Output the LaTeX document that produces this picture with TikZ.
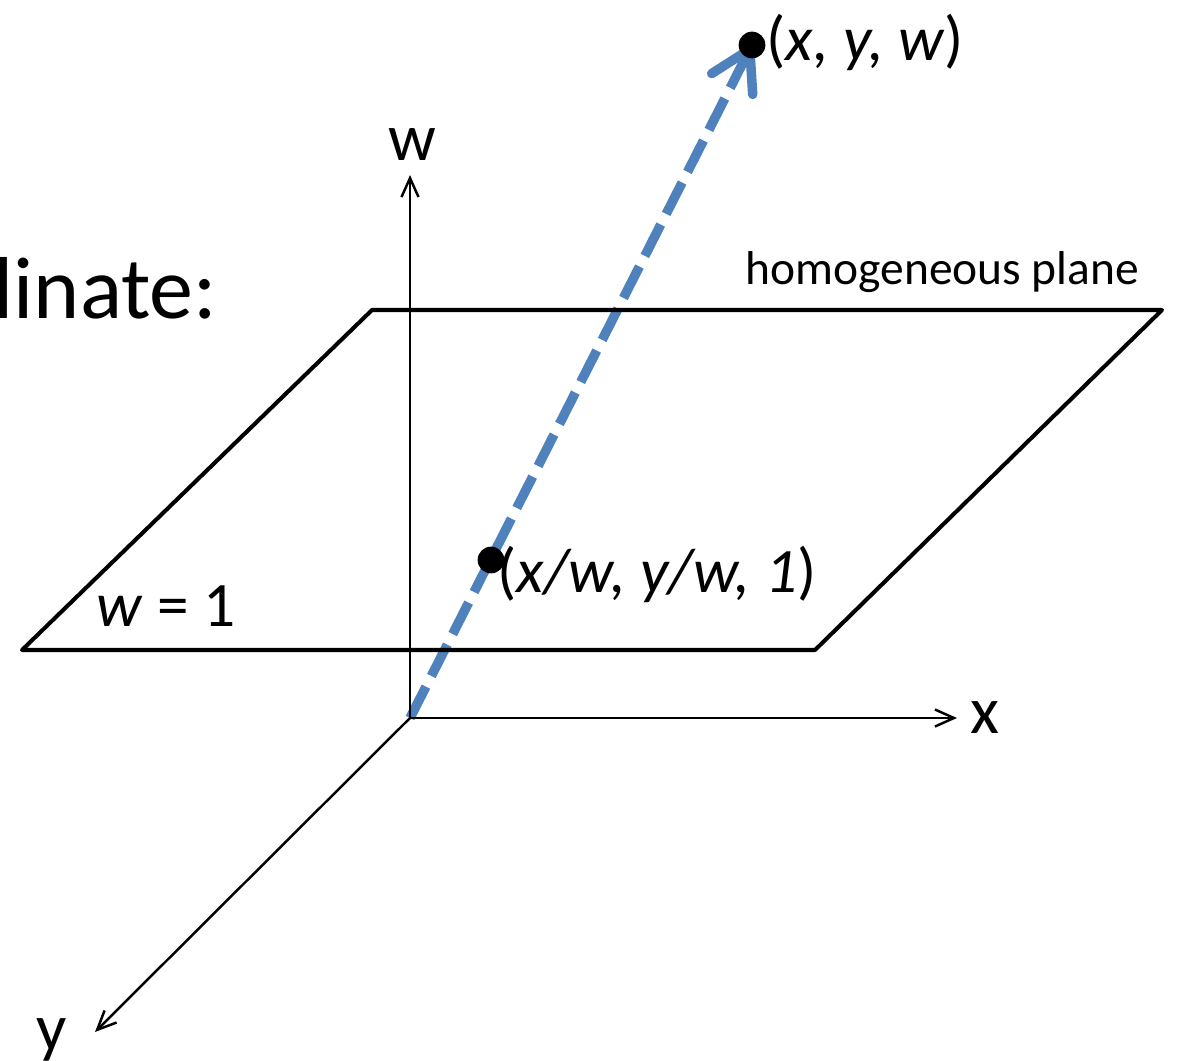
\documentclass[tikz,border=0pt]{standalone}
\usepackage{fontspec}
\setmainfont{Carlito}
\usepackage{tikz}
\usetikzlibrary{arrows.meta,positioning,backgrounds}
\definecolor{RayBlue}{RGB}{79,129,189}

\begin{document}
\begin{tikzpicture}[
  x=0.01cm, y=-0.01cm,
  axis/.style={-{Straight Barb[length=1.9mm,width=1.7mm]}, line width=0.7pt},
  plane/.style={draw, line width=1.15pt, line join=round, line cap=round},
  ray/.style={RayBlue, line width=2.7pt, dash pattern=on 10pt off 3.4pt,
    -{Straight Barb[length=3.9mm,width=4.6mm,round]}},
  dot/.style={circle, fill=black, inner sep=0pt, minimum size=7.6pt},
  textlabel/.style={font=\fontsize{18}{21}\selectfont, inner sep=0pt},
  smalllabel/.style={font=\fontsize{13.5}{16}\selectfont, inner sep=0pt},
  axislabel/.style={font=\fontsize{19}{22}\selectfont, inner sep=0pt},
  title/.style={font=\fontsize{25}{30}\selectfont, inner sep=0pt}
]
\useasboundingbox (0,0) rectangle (1179,1060);

% axes
\coordinate (O) at (410,718);
\coordinate (wend) at (410,175);
\coordinate (xend) at (957,718);
\coordinate (yend) at (95,1032);
\draw[axis] (O) -- (wend);
\draw[axis] (O) -- (xend);
\draw[axis] (O) -- (yend);
\node[axislabel] (wlab) at (412,145) {w};
\node[axislabel] (xlab) at (985,718) {x};
\node[axislabel] (ylab) at (52,1040) {y};

% plane w = 1
\coordinate (p1) at (22,650);
\coordinate (p2) at (815,650);
\coordinate (p3) at (1162,310);
\coordinate (p4) at (372,310);
\draw[plane] (p1) -- (p2) -- (p3) -- (p4) -- cycle;
\node[smalllabel,anchor=base west] (planelab) at (745,284) {homogeneous plane};
\node[textlabel,anchor=base west] (wone) at (96,626) {\textit{w} = 1};
\node[title,anchor=base east] (cut) at (218,318) {linate:};

% ray through the plane
\node[dot] (P) at (752,45) {};
\node[dot] (Q) at (491,560) {};
\begin{scope}[on background layer]
\draw[ray] (O) -- (P.center);
\end{scope}
\node[textlabel,anchor=base west] (Plab) at (766,60) {(\textit{x, y, w})};
\node[textlabel,anchor=base west] (Qlab) at (497,592) {(\textit{x/w, y/w, 1})};
\end{tikzpicture}
\end{document}
